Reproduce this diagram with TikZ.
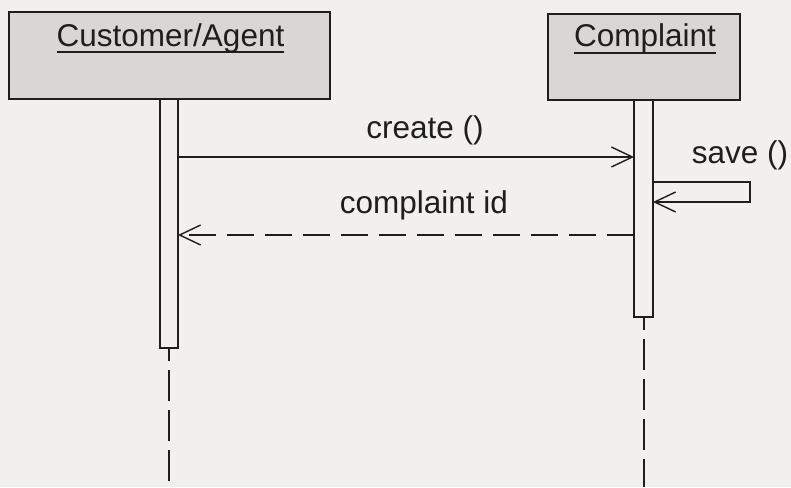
\documentclass[tikz,border=0pt]{standalone}
\usepackage{fontspec}
\setmainfont{Liberation Sans}
\usetikzlibrary{arrows.meta}
\definecolor{paper}{RGB}{241,240,236}
\definecolor{boxgray}{RGB}{216,215,212}
\definecolor{ink}{RGB}{30,30,30}
\begin{document}
\begin{tikzpicture}[x=1pt,y=-1pt,
  every node/.style={inner sep=0pt,outer sep=0pt},
  objbox/.style={draw=ink,line width=1.5pt,fill=boxgray,rectangle},
  actbar/.style={draw=ink,line width=1.5pt,fill=paper,rectangle},
  lbl/.style={anchor=base,text=ink,font=\fontsize{31.5}{36}\selectfont},
  uline/.style={draw=ink,line width=1.6pt},
  msg/.style={draw=ink,line width=1.4pt,-{Straight Barb[length=21pt,width=20pt,line width=1.4pt]}},
  reply/.style={msg,dash pattern=on 27pt off 11pt},
  lifeline/.style={draw=ink,line width=1.6pt,dash pattern=on 31pt off 9pt,dash phase=18pt}]
% paper
\fill[paper] (0,0) rectangle (791,487);
\useasboundingbox (0,0) rectangle (791,487);

% object boxes
\node[objbox,minimum width=321pt,minimum height=87pt] (cust) at (169.5,55.5) {};
\node[objbox,minimum width=192pt,minimum height=86pt] (comp) at (644,57) {};

% object names, underlined
\node[lbl] (custname) at (170.5,47) {Customer/Agent};
\draw[uline] ([yshift=-5pt]custname.base west) -- ([yshift=-5pt]custname.base east);
\node[lbl] (compname) at (645,47) {Complaint};
\draw[uline] ([yshift=-6pt]compname.base west) -- ([yshift=-6pt]compname.base east);

% lifelines
\coordinate (custend) at (169,487);
\coordinate (compend) at (644,487);
\draw[lifeline] (169,348) -- (custend);
\draw[lifeline] (644,317) -- (compend);

% activation bars
\node[actbar,minimum width=18pt,minimum height=249pt] (cbar) at (169,223.5) {};
\node[actbar,minimum width=19pt,minimum height=217pt] (pbar) at (643.5,208.5) {};

% create ()
\draw[msg] (cbar.east |- 0,157) -- (pbar.west |- 0,157);
\node[lbl] (create) at (425,138) {create ()};

% save () self call
\coordinate (selfa) at (750,182);
\coordinate (selfb) at (750,202);
\draw[msg] (pbar.east |- selfa) -- (selfa) -- (selfb) -- (pbar.east |- selfb);
\node[lbl] (save) at (740,163) {save ()};

% complaint id return
\draw[reply] (pbar.west |- 0,235) -- (cbar.east |- 0,235);
\node[lbl] (cid) at (424,213) {complaint id};
\end{tikzpicture}
\end{document}
